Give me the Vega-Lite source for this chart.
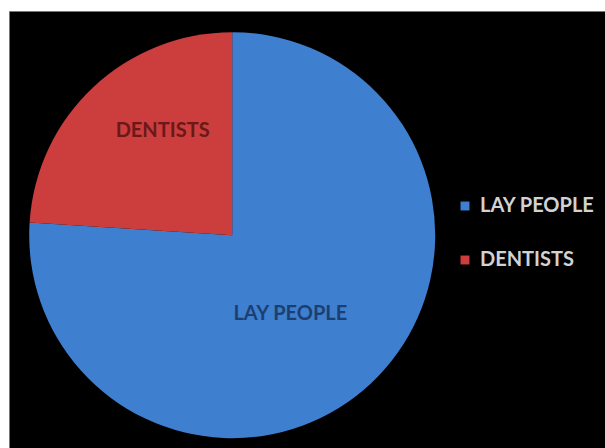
{
  "$schema": "https://vega.github.io/schema/vega-lite/v6.json",
  "width": 596,
  "height": 437,
  "autosize": {"type": "none"},
  "padding": {"left": 9, "top": 11, "right": 0, "bottom": 0},
  "background": "white",
  "view": {"fill": "black", "stroke": "#777777", "strokeWidth": 1},
  "data": {"values": [
    {"category": "LAY PEOPLE", "value": 76},
    {"category": "DENTISTS", "value": 24}
  ]},
  "layer": [
    {
      "mark": {"type": "arc", "outerRadius": 203, "x": {"expr": "width*0.3745"}, "y": {"expr": "height*0.513"}},
      "encoding": {
        "theta": {"field": "value", "type": "quantitative", "stack": true},
        "order": {"field": "category", "sort": "descending"},
        "color": {
          "field": "category", "type": "nominal",
          "scale": {"domain": ["LAY PEOPLE", "DENTISTS"], "range": ["#3f7fcf", "#cc3d3d"]},
          "legend": {
            "title": null, "orient": "none", "legendX": 446, "legendY": 185,
            "symbolType": "square", "symbolSize": 80, "symbolStrokeWidth": 0,
            "labelFont": "Lato", "labelFontSize": 20, "labelColor": "#d2d2d2",
            "labelFontWeight": "bold", "rowPadding": 34, "labelOffset": 5, "padding": 0
          }
        }
      }
    },
    {
      "mark": {"type": "text", "radius": 125, "dx": 16, "dy": -13, "font": "Lato", "fontSize": 20, "fontWeight": "bold", "color": "#6a1818", "x": {"expr": "width*0.3745"}, "y": {"expr": "height*0.513"}},
      "encoding": {
        "theta": {"field": "value", "type": "quantitative", "stack": true},
        "order": {"field": "category", "sort": "descending"},
        "text": {"condition": {"test": "datum.category === 'DENTISTS'", "field": "category"}, "value": ""}
      }
    },
    {
      "mark": {"type": "text", "radius": 98, "dx": -9, "dy": 7, "font": "Lato", "fontSize": 20, "fontWeight": "bold", "color": "#1c3f72", "x": {"expr": "width*0.3745"}, "y": {"expr": "height*0.513"}},
      "encoding": {
        "theta": {"field": "value", "type": "quantitative", "stack": true},
        "order": {"field": "category", "sort": "descending"},
        "text": {"condition": {"test": "datum.category === 'LAY PEOPLE'", "field": "category"}, "value": ""}
      }
    }
  ]
}
